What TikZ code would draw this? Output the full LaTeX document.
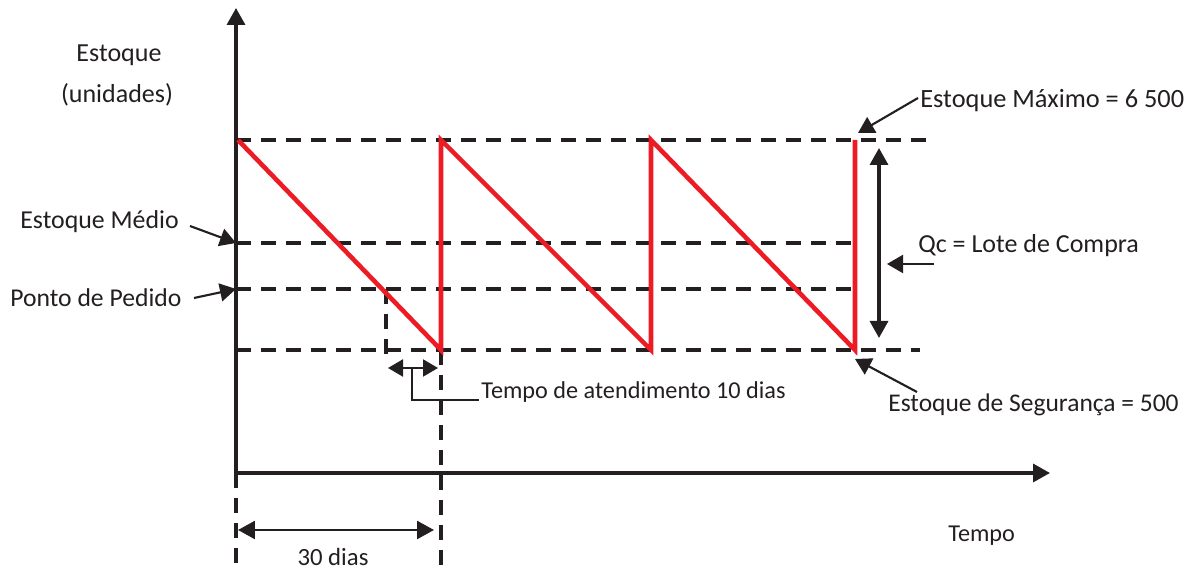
\documentclass[tikz,border=0pt]{standalone}
\usepackage{fontspec}
\setmainfont{Carlito}
\usetikzlibrary{arrows.meta}
\definecolor{sawred}{RGB}{237,28,36}
\definecolor{ink}{RGB}{35,31,32}
\newcommand{\fs}[1]{\fontsize{#1}{#1}\selectfont}
\begin{document}
\begin{tikzpicture}[x=0.02cm,y=-0.02cm,
  axis/.style={draw=ink,line width=1.9pt},
  guide/.style={draw=ink,line width=2pt,dash pattern=on 0.3cm off 0.2cm},
  saw/.style={draw=sawred,line width=2.6pt,line join=miter},
  bigtip/.style={-{Triangle[width=0.36cm,length=0.34cm]}},
  dbltip/.style={{Triangle[width=0.36cm,length=0.34cm]}-{Triangle[width=0.36cm,length=0.34cm]}},
  pointer/.style={draw=ink,line width=1.2pt,-{Triangle[width=0.36cm,length=0.32cm]}},
  lbl/.style={inner sep=0pt,anchor=west,text=ink}
]
\useasboundingbox (0,0) rectangle (1187,573);

% axes
\coordinate (O) at (236,473);
\coordinate (Ytop) at (236,8);
\coordinate (Xstart) at (234,473);
\coordinate (Xend) at (1050,473);
\draw[axis,bigtip] (O) -- (Ytop);
\draw[axis,bigtip] (Xstart) -- (Xend);

% horizontal guides
\coordinate (maxL) at (236,140); \coordinate (maxR) at (935,140);
\coordinate (medL) at (236,243); \coordinate (medR) at (856,243);
\coordinate (ppL) at (236,289);  \coordinate (ppR) at (856,289);
\coordinate (segL) at (236,350); \coordinate (segR) at (920,350);
\draw[guide] (maxL) -- (maxR);
\draw[guide] (medL) -- (medR);
\draw[guide] (ppL) -- (ppR);
\draw[guide] (segL) -- (segR);

% vertical guides
\coordinate (c1b) at (441,350); \coordinate (c1d) at (441,573);
\coordinate (ob) at (236,573);
\coordinate (ppT) at (386,289); \coordinate (ppB) at (386,356);
\draw[guide] (c1b) -- (c1d);
\draw[guide] (O) -- (ob);
\draw[guide] (ppT) -- (ppB);

% sawtooth
\coordinate (s0) at (238,140);
\coordinate (s1) at (441,350); \coordinate (s2) at (441,140);
\coordinate (s3) at (651,350); \coordinate (s4) at (651,140);
\coordinate (s5) at (855,350); \coordinate (s6) at (855,140);
\draw[saw] (s0) -- (s1) -- (s2) -- (s3) -- (s4) -- (s5) -- (s6);

% Qc double arrow
\coordinate (qcT) at (879,148); \coordinate (qcB) at (879,338);
\draw[axis,dbltip] (qcT) -- (qcB);

% labels
\node[lbl,anchor=center,font=\fs{14.8}] (est) at (119,55) {Estoque};
\node[lbl,anchor=center,font=\fs{14.8}] (uni) at (117,95) {(unidades)};
\node[lbl,font=\fs{14.7}] (medio) at (20,222) {Estoque Médio};
\node[lbl,font=\fs{14.6}] (ponto) at (10,298) {Ponto de Pedido};
\node[lbl,font=\fs{15}] (maxlbl) at (920,101) {Estoque Máximo = 6 500};
\node[lbl,font=\fs{14.8}] (qclbl) at (918,246) {Qc = Lote de Compra};
\node[lbl,font=\fs{14.5}] (seglbl) at (888,405) {Estoque de Segurança = 500};
\node[lbl,font=\fs{13.8}] (lead) at (481,392) {Tempo de atendimento 10 dias};
\node[lbl,font=\fs{13.8}] (tempo) at (948,536) {Tempo};
\node[lbl,anchor=center,font=\fs{14.1}] (dias) at (333,557) {30 dias};

% pointers
\coordinate (medT) at (236,243);
\coordinate (ppTip) at (236,289);
\coordinate (maxS) at (918,98); \coordinate (maxT) at (858,133);
\coordinate (qcS) at (934,264); \coordinate (qcTip) at (887,264);
\coordinate (segS) at (917,392); \coordinate (segT) at (855,359);
\coordinate (medS) at (190,226);
\coordinate (ppS) at (194,298);
\draw[pointer] (medS) -- (medT);
\draw[pointer] (ppS) -- (ppTip);
\draw[pointer] (maxS) -- (maxT);
\draw[pointer] (qcS) -- (qcTip);
\draw[pointer] (segS) -- (segT);

% lead time arrow
\coordinate (ltL) at (388,368); \coordinate (ltR) at (438,368);
\coordinate (ltM) at (412,368); \coordinate (ltK) at (412,400);
\coordinate (ltE) at (479,400);
\draw[draw=ink,line width=1.2pt,{Triangle[width=0.34cm,length=0.3cm]}-{Triangle[width=0.34cm,length=0.3cm]}] (ltL) -- (ltR);
\draw[draw=ink,line width=1.2pt] (ltM) -- (ltK) -- (ltE);

% 30 dias arrow
\coordinate (dL) at (238,530); \coordinate (dR) at (434,530);
\draw[draw=ink,line width=1.4pt,dbltip] (dL) -- (dR);
\end{tikzpicture}
\end{document}
